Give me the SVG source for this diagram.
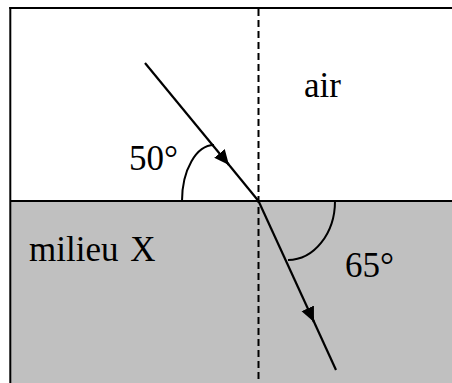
<svg xmlns="http://www.w3.org/2000/svg" width="452" height="383" viewBox="0 0 452 383">
<style>
.lbl{font-family:"Liberation Serif","Times New Roman",serif;font-size:35px;fill:#000}
.ln{stroke:#000;stroke-width:2;fill:none}
.ray{stroke:#000;stroke-width:2.2;fill:none}
</style>
<defs>
<marker id="ah" viewBox="-15 -7 15 14" refX="0" refY="0" markerWidth="15" markerHeight="14" markerUnits="userSpaceOnUse" orient="auto">
<path d="M0,0 L-15,-6.8 L-15,6.8 z" fill="#000"/>
</marker>
</defs>
<rect x="0" y="0" width="452" height="383" fill="#fff"/>
<g id="air">
<rect x="10" y="8" width="442" height="193" fill="#fff"/>
<text class="lbl" x="304" y="97">air</text>
</g>
<g id="milieu">
<rect x="10" y="201" width="442" height="182" fill="#c0c0c0"/>
<text class="lbl" x="29" y="261" word-spacing="3">milieu X</text>
</g>
<g id="frame">
<line class="ln" x1="10.3" y1="7" x2="10.3" y2="383"/>
<line class="ln" x1="9.3" y1="8" x2="452" y2="8"/>
<line class="ln" x1="10" y1="201" x2="452" y2="201"/>
</g>
<g id="normal">
<line x1="258.5" y1="9" x2="258.5" y2="383" stroke="#000" stroke-width="2" stroke-dasharray="7,4"/>
</g>
<g id="connectors">
<line class="ray" x1="145" y1="63" x2="229" y2="165" marker-end="url(#ah)"/>
<line class="ray" x1="226" y1="161.3" x2="258.5" y2="201"/>
<line class="ray" x1="258.5" y1="201" x2="314" y2="322" stroke-width="3" marker-end="url(#ah)"/>
<line class="ray" x1="312" y1="317.5" x2="336" y2="370"/>
</g>
<g id="angle50">
<path class="ln" d="M182,201 A32,56 0 0 1 214,145"/>
<text class="lbl" x="129" y="170">50°</text>
</g>
<g id="angle65">
<path class="ln" d="M335,201 A47,59 0 0 1 288,260"/>
<text class="lbl" x="345" y="277">65°</text>
</g>
</svg>
